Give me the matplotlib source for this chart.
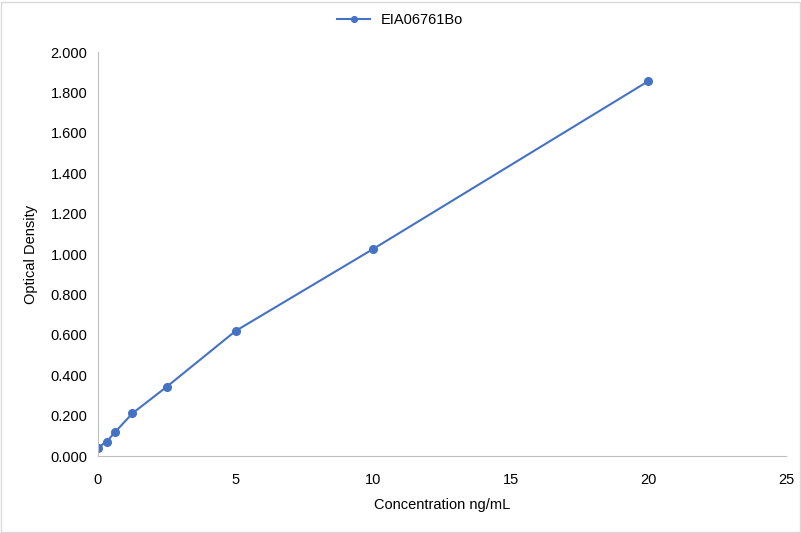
import matplotlib.pyplot as plt
from matplotlib.patches import Rectangle
from matplotlib.ticker import FormatStrFormatter

plt.rcParams['font.family'] = ['Liberation Sans', 'DejaVu Sans']

conc = [0, 0.313, 0.625, 1.25, 2.5, 5, 10, 20]
od = [0.041, 0.071, 0.119, 0.211, 0.343, 0.619, 1.025, 1.856]
series_name = 'EIA06761Bo'

blue = '#4472C4'

fig = plt.figure(figsize=(8.01, 5.33), dpi=100)
ax = fig.add_axes([98 / 801, 77 / 533, 688 / 801, 404 / 533])

ax.plot(conc, od, color=blue, lw=1.5, marker='o', ms=5.5, label=series_name)

ax.set_xlim(0, 25)
ax.set_ylim(0, 2.0)
ax.set_xticks(range(0, 26, 5))
ax.set_yticks([i * 0.2 for i in range(11)])
ax.yaxis.set_major_formatter(FormatStrFormatter('%.3f'))

for side in ['top', 'right']:
    ax.spines[side].set_visible(False)
for side in ['left', 'bottom']:
    ax.spines[side].set_color('#BFBFBF')
ax.tick_params(axis='both', length=0, labelsize=10.5, labelcolor='black')
ax.tick_params(axis='x', pad=12.5)
ax.tick_params(axis='y', pad=7.5)

ax.set_xlabel('Concentration ng/mL', fontsize=10.5, labelpad=8)
ax.set_ylabel('Optical Density', fontsize=10.5, labelpad=9)

fig.legend(loc='upper center', bbox_to_anchor=(0.5, 1.0), frameon=False,
           fontsize=10.5, handlelength=2.2, markerscale=0.75)

# light frame round the chart area
fig.patches.append(Rectangle((1 / 801, 1 / 533), 798.5 / 801, 530.5 / 533,
                             transform=fig.transFigure, fill=False,
                             edgecolor='#D9D9D9', lw=1))

fig.savefig('out.png', dpi=100)
